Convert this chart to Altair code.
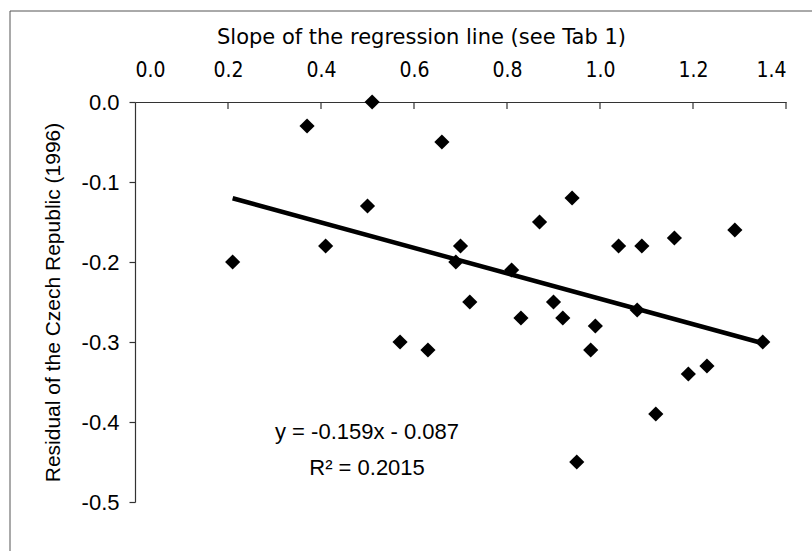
import altair as alt
import pandas as pd

# Data
slope = [0.21, 0.37, 0.41, 0.50, 0.51, 0.57, 0.63, 0.66, 0.69, 0.70,
         0.72, 0.81, 0.83, 0.87, 0.90, 0.92, 0.94, 0.95, 0.98, 0.99,
         1.04, 1.08, 1.09, 1.12, 1.16, 1.19, 1.23, 1.29, 1.35]
residual = [-0.20, -0.03, -0.18, -0.13, 0.00, -0.30, -0.31, -0.05, -0.20, -0.18,
            -0.25, -0.21, -0.27, -0.15, -0.25, -0.27, -0.12, -0.45, -0.31, -0.28,
            -0.18, -0.26, -0.18, -0.39, -0.17, -0.34, -0.33, -0.16, -0.30]

x_ticks = [0.0, 0.2, 0.4, 0.6, 0.8, 1.0, 1.2, 1.4]
y_ticks = [0.0, -0.1, -0.2, -0.3, -0.4, -0.5]

eq_text = ["y = -0.159x - 0.087", "R² = 0.2015"]
eq_x = [0.499, 0.499]
eq_y = [-0.413, -0.458]

df = pd.DataFrame({"slope": slope, "residual": residual})
ticks_df = pd.DataFrame({"t": x_ticks[1:]})
eq_df = pd.DataFrame({"label": eq_text, "x": eq_x, "y": eq_y})

W, H = 651, 400
TITLE_FONT = "DejaVu Sans, Tahoma, sans-serif"
TICK_FONT = "DejaVu Sans Condensed, Tahoma, sans-serif"
ARIAL = "Liberation Sans, Arial, sans-serif"

xscale = alt.Scale(domain=[0, 1.4], nice=False, zero=False)
yscale = alt.Scale(domain=[-0.5, 0], nice=False, zero=False)

x_axis = alt.Axis(
    orient="top", values=x_ticks, format=".1f", grid=False, ticks=False,
    domain=True, domainColor="#333333", domainWidth=1.2,
    labelFont=TICK_FONT, labelFontSize=21, labelColor="#000000", labelPadding=22,
    title="Slope of the regression line (see Tab 1)",
    titleFont=TITLE_FONT, titleFontSize=21, titleFontWeight="normal",
    titleColor="#000000", titlePadding=12, titleX=286, titleAlign="center",
)
y_axis = alt.Axis(
    orient="left", values=y_ticks, grid=False,
    labelExpr="replace(format(datum.value, '.1f'), '\u2212', '-')",
    ticks=True, tickSize=6, tickColor="#333333", tickWidth=1.2,
    domain=True, domainColor="#333333", domainWidth=1.2,
    labelFont=ARIAL, labelFontSize=22, labelColor="#000000", labelPadding=10,
    title="Residual of the Czech Republic (1996)",
    titleFont=ARIAL, titleFontSize=21, titleFontWeight="normal",
    titleColor="#000000", titlePadding=18,
)

points = alt.Chart(df).mark_point(
    shape="diamond", filled=True, color="#000000", size=230, opacity=1
).encode(
    x=alt.X("slope:Q", scale=xscale, axis=x_axis),
    y=alt.Y("residual:Q", scale=yscale, axis=y_axis),
)

trend = alt.Chart(df).transform_regression(
    "slope", "residual"
).mark_line(color="#000000", strokeWidth=4.5).encode(
    x=alt.X("slope:Q", scale=xscale),
    y=alt.Y("residual:Q", scale=yscale),
)

xticks = alt.Chart(ticks_df).mark_rule(color="#333333", strokeWidth=1.2).encode(
    x=alt.X("t:Q", scale=xscale),
    y=alt.value(0),
    y2=alt.value(7),
)

eq = alt.Chart(eq_df).mark_text(
    font=ARIAL, fontSize=22, color="#000000", align="center", baseline="middle"
).encode(
    x=alt.X("x:Q", scale=xscale),
    y=alt.Y("y:Q", scale=yscale),
    text="label:N",
)

# thin outer frame of the scanned figure (top and left edges)
frame_top = alt.Chart(ticks_df.head(1)).mark_rule(color="#555555", strokeWidth=1).encode(
    x=alt.value(-125), x2=alt.value(W + 30), y=alt.value(-91)
)
frame_left = alt.Chart(ticks_df.head(1)).mark_rule(color="#555555", strokeWidth=1).encode(
    x=alt.value(-125), y=alt.value(-91), y2=alt.value(H + 60)
)

chart = alt.layer(frame_top, frame_left, xticks, trend, points, eq).properties(
    width=W, height=H,
    autosize=alt.AutoSizeParams(type="none"),
    padding={"left": 135, "top": 102, "right": 26, "bottom": 49},
    background="#ffffff",
).configure_view(stroke=None)

chart.save("out.html", embed_options={"renderer": "svg", "actions": False})
